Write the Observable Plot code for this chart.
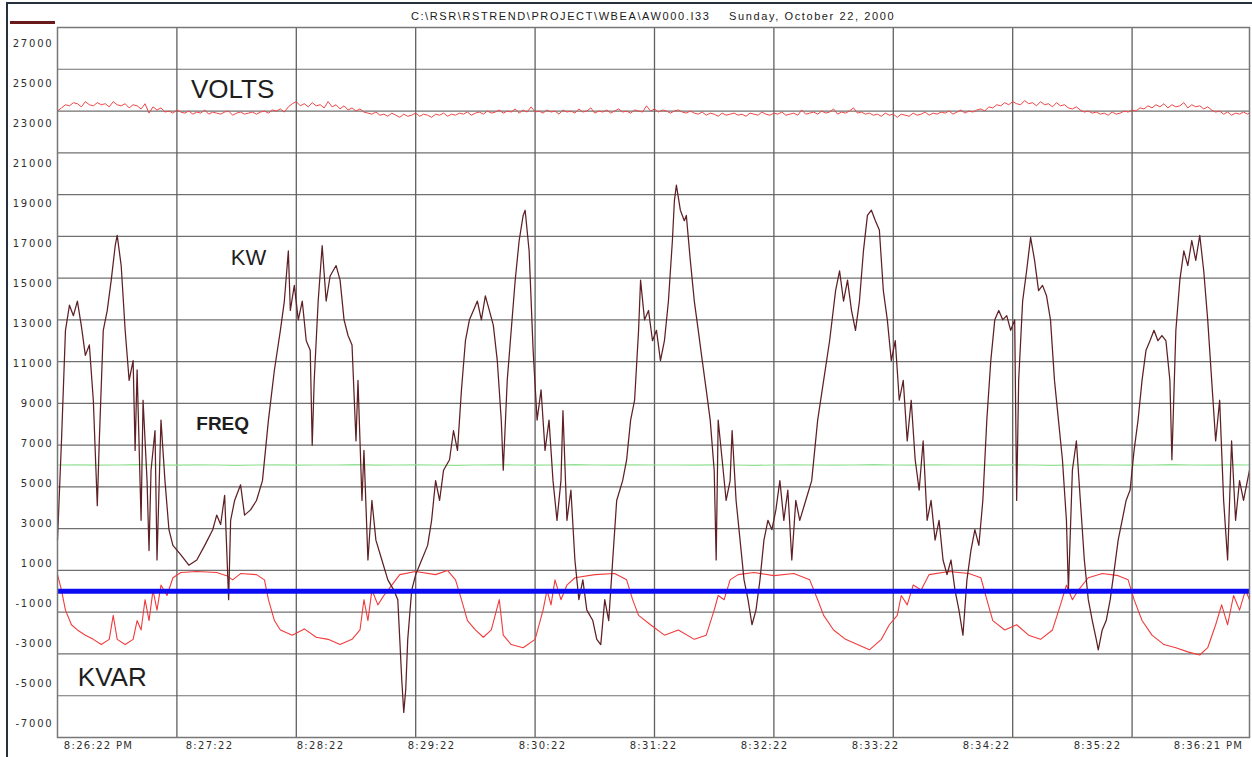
<!DOCTYPE html>
<html>
<head>
<meta charset="utf-8">
<script src="https://cdn.jsdelivr.net/npm/d3@7"></script>
<script src="https://cdn.jsdelivr.net/npm/@observablehq/plot@0.6"></script>
<style>
  body { margin: 0; background: #fff; }
  #wrap { position: relative; width: 1252px; height: 757px; overflow: hidden; background: #fff; }
  #wrap svg { position: absolute; left: 0; top: 0; }
  #border { position: absolute; left: 6px; top: 2px; right: 0; bottom: 0; border-left: 2px solid #26313d; border-top: 2px solid #26313d; pointer-events: none; }
  #title { position: absolute; top: 10px; left: 57px; width: 1192px; text-align: center; font: 11px/12px "Liberation Sans", Arial, sans-serif; letter-spacing: 1.6px; color: #1a1a1a; white-space: pre; }
  #swatch { position: absolute; left: 10px; top: 21px; width: 45px; height: 3px; background: #6a1a1a; }
</style>
</head>
<body>
<div id="wrap"></div>
<script>
// ---------- DATA ----------
const titlePath = "C:\\RSR\\RSTREND\\PROJECT\\WBEA\\AW000.I33";
const titleDate = "Sunday, October 22, 2000";

const xTickLabels = ["8:26:22 PM","8:27:22","8:28:22","8:29:22","8:30:22","8:31:22","8:32:22","8:33:22","8:34:22","8:35:22","8:36:21 PM"];
const xGridSeconds = [60,120,180,240,300,360,420,480,540];
const xDomain = [0, 599];
const yTickLabels = ["27000","25000","23000","21000","19000","17000","15000","13000","11000","9000","7000","5000","3000","1000","-1000","-3000","-5000","-7000"];
const yDomain = [-7000, 27000];

// [seconds after 8:26:22 PM, value]
const kwSamples = [[0,2450],[2,7200],[4,12500],[6,13700],[8,13200],[10,13900],[12,12700],[14,11300],[16,11800],[18,9150],[20,4100],[21,7200],[23,12500],[25,13450],[27,14900],[29,16550],[30,17050],[32,15600],[34,12500],[36,10100],[38,11050],[39,6750],[40,10600],[42,3400],[43,9150],[45,5300],[46,1950],[47,5800],[49,7700],[50,1500],[52,8200],[54,5300],[56,2950],[58,2200],[62,1750],[66,1250],[70,1500],[74,2200],[78,2950],[80,3650],[82,3200],[84,4600],[86,-400],[87,3400],[89,4350],[92,5100],[94,3650],[97,3900],[100,4350],[103,5300],[106,8200],[109,10600],[112,12500],[114,13900],[116,16300],[117,13450],[119,14650],[121,13000],[123,13900],[125,12000],[127,11550],[128,7000],[129,10100],[131,13900],[133,16550],[135,13900],[137,15100],[140,15600],[142,14900],[144,13000],[146,12250],[148,11800],[150,7200],[151,10100],[153,4350],[154,6750],[156,1500],[158,4350],[160,2450],[163,1500],[166,550],[169,60],[171,-400],[172,-2300],[173,-4250],[174,-5800],[175,-4700],[176,-2300],[178,60],[180,800],[183,1500],[186,2200],[188,3400],[190,5300],[192,4350],[194,5800],[197,6300],[199,7700],[201,6750],[203,9650],[205,12000],[207,13000],[209,13450],[211,13900],[213,13000],[215,14150],[217,13450],[219,12750],[221,11050],[223,8200],[224,5800],[226,10100],[228,12500],[230,14900],[232,16800],[234,18000],[235,18250],[237,16300],[239,11550],[241,8200],[243,9650],[245,6750],[247,8200],[249,5300],[251,3400],[253,5300],[254,8650],[256,3400],[258,4850],[260,1500],[262,-400],[264,550],[266,-900],[269,-1400],[271,-2300],[273,-2550],[275,-400],[277,-1400],[279,1500],[281,4350],[284,5300],[286,6300],[288,8200],[290,9150],[292,12500],[293,14900],[295,13000],[297,13450],[299,12000],[301,12500],[303,11050],[305,12000],[307,13900],[309,16800],[310,18700],[311,19450],[313,18250],[315,17750],[316,18000],[318,15850],[320,13900],[322,12500],[324,11050],[326,9650],[328,8200],[330,5800],[331,1500],[332,8200],[334,6300],[336,4350],[338,5300],[339,7700],[341,4350],[343,2450],[345,550],[347,-400],[349,-1600],[351,-900],[353,550],[355,2450],[357,3400],[359,2950],[361,3900],[363,5300],[365,3400],[367,4850],[369,1500],[371,4350],[373,3400],[376,4350],[379,5300],[382,8200],[385,10100],[388,12000],[391,14400],[393,15350],[395,13900],[397,14900],[399,13450],[401,12500],[403,13900],[405,16300],[407,18000],[409,18250],[411,17750],[413,17300],[415,14400],[417,13000],[419,11050],[421,12000],[423,9150],[425,10100],[427,7200],[429,9150],[431,6300],[433,4850],[435,7200],[437,3400],[439,4350],[441,2450],[443,3400],[445,1500],[447,800],[449,1500],[451,60],[453,-900],[455,-2100],[457,550],[459,1950],[461,2950],[463,2200],[465,4350],[467,8200],[469,11050],[471,13000],[473,13450],[475,13000],[477,13200],[479,12500],[481,13000],[482,4350],[483,10100],[485,13900],[487,15350],[489,16950],[491,15850],[493,14400],[495,14650],[497,14150],[499,13000],[501,10100],[503,8200],[505,6300],[507,3400],[508,60],[510,5800],[512,7200],[514,4350],[516,1500],[518,-400],[520,-1400],[522,-2300],[523,-2800],[525,-1850],[527,-1400],[529,-400],[531,1000],[533,2450],[535,3400],[537,4350],[539,4850],[541,6750],[543,8200],[545,10100],[547,11550],[549,12000],[551,12500],[553,12000],[555,12250],[557,12000],[559,10100],[560,6300],[562,12500],[564,14900],[566,16300],[568,15600],[570,16800],[572,15850],[574,17050],[576,15350],[578,13000],[580,10100],[582,7200],[584,9150],[586,4350],[588,1500],[590,7200],[592,3400],[594,5300],[596,4350],[599,5800]];

const kvarSamples = [[0,800],[2,60],[4,-900],[7,-1600],[10,-1850],[14,-2100],[18,-2300],[22,-2550],[26,-2300],[28,-1150],[30,-2300],[34,-2550],[38,-2300],[40,-1400],[42,-1850],[44,-400],[46,-1400],[48,60],[50,-900],[52,300],[55,-200],[58,650],[62,900],[70,950],[80,900],[85,750],[88,550],[92,850],[100,800],[104,550],[106,-400],[109,-1400],[112,-1850],[118,-2100],[124,-1800],[130,-2200],[136,-2300],[142,-2550],[148,-2300],[152,-1850],[154,-400],[156,-1400],[158,60],[161,-650],[164,-200],[168,300],[172,800],[180,950],[190,800],[196,1000],[200,550],[203,-400],[206,-1400],[210,-1850],[214,-2200],[218,-1850],[222,-400],[224,-2100],[228,-2550],[234,-2700],[240,-2300],[244,-900],[246,60],[248,-650],[250,550],[253,-400],[256,300],[260,650],[270,800],[280,850],[286,550],[289,-400],[292,-1150],[298,-1600],[305,-2100],[312,-1850],[320,-2300],[326,-2100],[330,-900],[332,-200],[335,-400],[338,550],[342,800],[350,900],[360,750],[370,850],[378,550],[382,-400],[385,-1150],[390,-1850],[396,-2300],[402,-2550],[408,-2800],[414,-2300],[418,-1600],[422,-1150],[424,-200],[427,-650],[430,300],[434,60],[438,800],[448,950],[458,850],[464,650],[467,-400],[470,-1400],[476,-1850],[482,-1600],[488,-2100],[494,-2300],[500,-1850],[504,-650],[507,300],[510,-400],[513,60],[518,650],[525,850],[533,750],[538,550],[541,-400],[545,-1400],[550,-2100],[556,-2550],[562,-2700],[568,-2900],[574,-3050],[578,-2700],[582,-1600],[585,-650],[588,-1600],[591,-200],[594,-900],[597,60],[599,-400]];

// sampled every 2 seconds
const voltsStep = 2;
const voltsValues = [
  23000,23150,23300,23250,23400,23350,23200,23450,23300,23250,
  23400,23300,23350,23200,23450,23300,23250,23350,23150,23300,
  23250,23100,23350,22900,23200,23050,23150,22950,23000,22900,
  23050,22950,22900,23000,22850,22950,22900,23050,22850,22950,
  22900,22850,22950,23000,22800,22900,22950,22850,22900,22950,
  22850,22950,23000,22900,23050,23000,23100,22950,23200,23350,
  23450,23250,23350,23200,23400,23250,23300,23150,23450,23200,
  23300,23100,23250,23050,23150,23000,23100,22950,22900,22850,
  22950,22800,22850,22750,22900,22800,22700,22850,22750,22800,
  22900,22750,22850,22800,22700,22850,22800,22900,22750,22850,
  22800,22900,22850,22950,22800,22900,22950,22850,23000,22900,
  22950,23050,22900,23000,22950,23100,22900,23050,22950,23200,
  22950,23000,22900,23050,22950,23000,22850,23050,22950,23000,
  22900,23100,22950,23000,23150,22900,23000,22950,23050,22900,
  23000,23100,22950,23000,22900,23050,23000,22950,23250,23000,
  23100,22950,23050,23000,22900,23000,23050,22950,22900,23000,
  22900,22850,22950,22800,22900,22850,22750,22900,22800,22850,
  22900,22800,22850,22750,22900,22850,22800,22950,22850,22800,
  22900,22850,22950,22800,22850,22900,22800,23050,22850,22900,
  22950,22850,23000,22900,22950,23100,22850,22950,22900,23000,
  23150,22900,22950,22850,22900,22800,22850,22750,22900,22800,
  22850,22700,22850,22800,22750,22900,22800,22850,22950,22800,
  22900,22850,22950,22900,23000,22850,22950,23050,22900,23000,
  22950,23050,23100,23000,23200,23150,23300,23250,23400,23300,
  23450,23350,23300,23500,23350,23400,23250,23450,23300,23350,
  23200,23400,23250,23300,23150,23100,23200,23050,22950,23000,
  22900,22950,22850,22900,22800,22950,22850,22900,23000,22950,
  23050,23000,23150,23100,23250,23150,23300,23200,23350,23150,
  23300,23200,23250,23400,23150,23300,23200,23250,23100,23200,
  23050,22950,23000,22850,22950,22800,22900,22850,22950,22850,
  22900];

// sampled every 10 seconds
const freqStep = 10;
const freqValues = [6050,6060,6040,6050,6070,6050,6040,6060,6050,6030,6050,6060,6040,6050,6050,6070,6040,6050,6060,6050,6030,6050,6060,6050,6040,6050,6070,6050,6040,6060,6050,6050,6040,6060,6050,6030,6050,6060,6050,6040,6050,6070,6050,6040,6060,6050,6050,6040,6060,6050,6030,6050,6060,6050,6040,6050,6070,6050,6040,6060,6050];

const zeroLine = [0];

// series name labels: [text, seconds, value]
const seriesLabels = [["VOLTS",88,24030],["KW",96,15950],["FREQ",83,8000],["KVAR",27.5,-4130]];

// ---------- BUILD ----------
const volts = voltsValues.map((v, i) => ({t: Math.min(i * voltsStep, xDomain[1]), v}));
const freq = freqValues.map((v, i) => ({t: Math.min(i * freqStep, xDomain[1]), v}));
const yGrid = yTickLabels.map(Number).filter(v => v > yDomain[0] && v < yDomain[1]);
const lbl = name => seriesLabels.filter(d => d[0] === name);

const wrap = document.getElementById("wrap");

const main = Plot.plot({
  width: 1252, height: 757,
  marginTop: 27, marginLeft: 57, marginRight: 3, marginBottom: 20,
  x: {domain: xDomain, axis: null},
  y: {domain: yDomain, axis: null},
  style: {background: "transparent", overflow: "visible", fontFamily: "'Liberation Sans', Arial, sans-serif"},
  marks: [
    Plot.ruleY(yGrid, {stroke: "#707070", strokeWidth: 1.2}),
    Plot.ruleX(xGridSeconds, {stroke: "#606060", strokeWidth: 1.3}),
    Plot.line(freq, {x: "t", y: "v", stroke: "#8fe08f", strokeWidth: 1.2}),
    Plot.line(volts, {x: "t", y: "v", stroke: "#ee4646", strokeWidth: 1}),
    Plot.line(kvarSamples, {x: d => d[0], y: d => d[1], stroke: "#f03c3c", strokeWidth: 1.1}),
    Plot.line(kwSamples, {x: d => d[0], y: d => d[1], stroke: "#5e2024", strokeWidth: 1.25}),
    Plot.ruleY(zeroLine, {stroke: "#0c0cf2", strokeWidth: 5}),
    Plot.frame({stroke: "#777", strokeWidth: 1.5}),
    Plot.text(lbl("VOLTS"), {x: d => d[1], y: d => d[2], text: d => d[0], fontSize: 26, fill: "#1e1e1e"}),
    Plot.text(lbl("KW"), {x: d => d[1], y: d => d[2], text: d => d[0], fontSize: 22, fill: "#1e1e1e"}),
    Plot.text(lbl("FREQ"), {x: d => d[1], y: d => d[2], text: d => d[0], fontSize: 19, fontWeight: 600, fill: "#1e1e1e"}),
    Plot.text(lbl("KVAR"), {x: d => d[1], y: d => d[2], text: d => d[0], fontSize: 26, fill: "#1e1e1e"})
  ]
});
wrap.appendChild(main);

const yLab = Plot.plot({
  width: 57, height: 757,
  marginTop: 27, marginBottom: 20, marginLeft: 53, marginRight: 0,
  y: {type: "point", domain: yTickLabels, padding: 0.24},
  style: {background: "transparent", overflow: "visible", fontFamily: "'DejaVu Sans', sans-serif", letterSpacing: "1.8px"},
  marks: [Plot.axisY({tickSize: 0, tickPadding: 0, fontSize: 10, fill: "#2e2e2e", dy: 1.5, label: null})]
});
wrap.appendChild(yLab);

const xLab = Plot.plot({
  width: 1252, height: 20,
  marginTop: 0, marginBottom: 18, marginLeft: 57, marginRight: 3,
  x: {type: "point", domain: xTickLabels, padding: 0.326},
  style: {background: "transparent", overflow: "visible", fontFamily: "'DejaVu Sans', sans-serif", letterSpacing: "1.3px"},
  marks: [Plot.axisX({tickSize: 0, tickPadding: 2, fontSize: 10, fill: "#2e2e2e", label: null})]
});
xLab.style.top = "737px";
wrap.appendChild(xLab);

const border = document.createElement("div"); border.id = "border"; wrap.appendChild(border);
const title = document.createElement("div"); title.id = "title";
title.textContent = titlePath + "    " + titleDate; wrap.appendChild(title);
const sw = document.createElement("div"); sw.id = "swatch"; wrap.appendChild(sw);
</script>
</body>
</html>
